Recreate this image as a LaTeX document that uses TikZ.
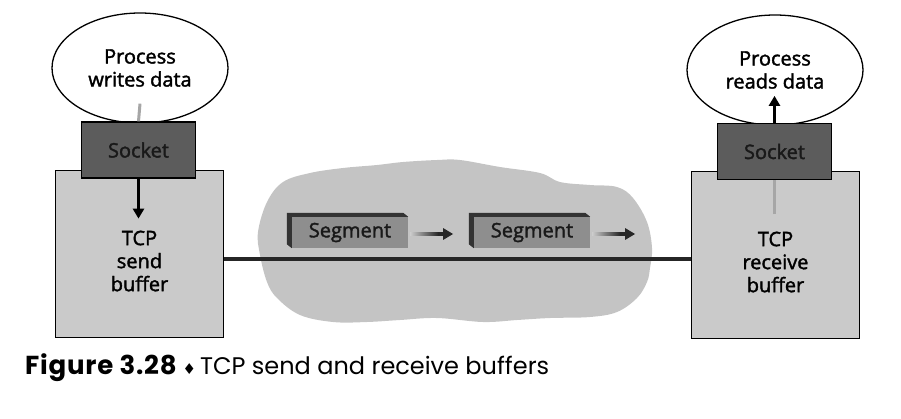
\documentclass[tikz,border=0pt]{standalone}
\usepackage{fontspec}
\setmainfont{Open Sans}[FakeBold=1.8]
\newfontfamily\capfont{Poppins}
\newfontfamily\symfont{DejaVu Sans}
\usetikzlibrary{shapes.geometric, arrows.meta}
\definecolor{sockgray}{HTML}{5C5C5C}
\definecolor{bufgray}{HTML}{CACACA}
\definecolor{cloudgray}{HTML}{C4C4C4}
\definecolor{seggray}{HTML}{8E8E8E}
\definecolor{edgegray}{HTML}{333333}

\begin{document}
\begin{tikzpicture}[x=1pt, y=-1pt, >={Triangle[length=10pt, width=11pt]},
	every node/.style={font=\fontsize{20}{23}\selectfont, align=center, inner sep=0pt},
	proc/.style={draw, ellipse, fill=white, line width=1.3pt, minimum width=176pt, minimum height=110pt},
	sock/.style={draw, fill=sockgray, line width=1.3pt, text=black!90, minimum width=114pt, minimum height=56pt},
	buf/.style={draw, fill=bufgray, line width=1.3pt, minimum width=168pt, minimum height=167pt},
	seg/.style={fill=seggray, text=black!90, minimum width=116pt, minimum height=31pt},
	segedge/.style={fill=edgegray},
	stem/.style={line width=3pt, gray!70},
	pipe/.style={->, line width=3pt},
	wire/.style={line width=4pt, black!85},
	segarrow/.style={->, line width=3.5pt, black!85}]

	\useasboundingbox (0,0) rectangle (901,418);

	\fill [cloudgray] plot [smooth cycle, tension=0.6] coordinates {(258,232) (267,202) (283,182) (310,173) (343,168) (377,165)
		(403,162) (437,160) (460,160) (500,167) (540,173) (560,182) (590,185) (617,187) (633,198) (647,222) (652,248)
		(650,268) (647,282) (637,298) (617,312) (590,317) (550,318) (517,320) (483,322) (437,318) (400,320) (367,322)
		(333,322) (300,315) (277,298) (267,282) (260,255)};

	\node [proc] (wproc) at (140,68) {Process\\writes data};
	\node [buf] (sbuf) at (139.5,254) {};
	\node [sock] (wsock) at (138.5,150) {Socket};
	\node (sbuftxt) at (139.5,261) {TCP\\send\\buffer};
	\draw [stem] ([yshift=20pt]wproc.south) -- (wsock.north);
	\draw [pipe] (wsock.south) -- ++(0,40);

	\node [proc] (rproc) at (775,70) {Process\\reads data};
	\node [buf] (rbuf) at (775.5,255) {};
	\node [sock] (rsock) at (774.5,151.5) {Socket};
	\node (rbuftxt) at (775.5,262) {TCP\\receive\\buffer};
	\draw [stem] ([yshift=-34pt]rsock.south) -- (rsock.south);
	\draw [pipe] (rsock.north) -- ++(0,-27);

	\draw [wire] ([yshift=-5pt]sbuf.east) -- ([yshift=-5pt]sbuf.east -| rbuf.west);

	\node [seg] (seg1) at (350,232.5) {Segment};
	\node [seg] (seg2) at (532,232.5) {Segment};
	\foreach \s in {seg1, seg2} {
		\fill [segedge] ([shift={(-5pt,4pt)}]\s.south west) -- ([shift={(-5pt,4pt)}]\s.north west)
			-- ([shift={(-5pt,4pt)}]\s.north east) -- (\s.north east) -- (\s.north west) -- (\s.south west) -- cycle;
		\draw [segarrow] ([shift={(2pt,-1.5pt)}]\s.east) -- ++(43,0);
		\shade [left color=gray!40, right color=black!85] ([shift={(2pt,0.25pt)}]\s.east) rectangle ([shift={(30pt,-3.25pt)}]\s.east);
	}

	\node [anchor=base west, font=\capfont\fontsize{24}{28}\selectfont] (caption) at (25,374)
		{{\fontsize{26}{28}\selectfont\bfseries\addfontfeatures{LetterSpace=3}Figure 3.28}\hspace{6pt}{\symfont\fontsize{15}{15}\selectfont ♦}\hspace{4pt}TCP send and receive buffers};

\end{tikzpicture}
\end{document}
